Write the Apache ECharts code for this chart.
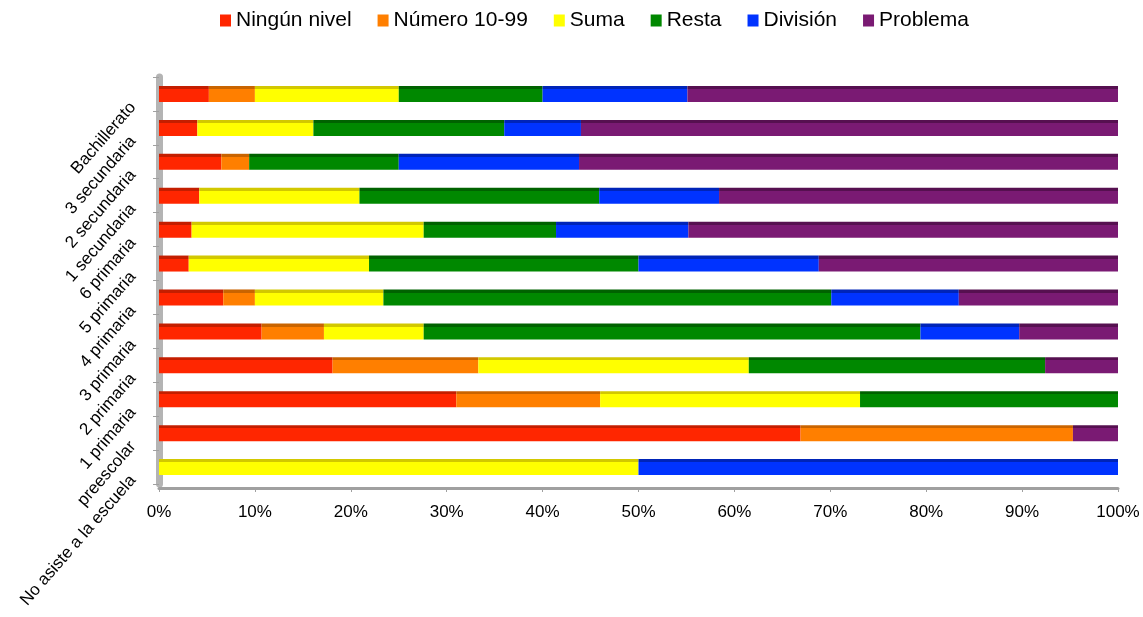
<!DOCTYPE html>
<html>
<head>
<meta charset="utf-8">
<script src="https://cdn.jsdelivr.net/npm/echarts@6/dist/echarts.min.js"></script>
<style>html,body{margin:0;padding:0;background:#fff}#c{width:1143px;height:617px}</style>
</head>
<body>
<div id="c"></div>
<script>
var categories = ['No asiste a la escuela','preescolar','1 primaria','2 primaria','3 primaria','4 primaria','5 primaria','6 primaria','1 secundaria','2 secundaria','3 secundaria','Bachillerato'];
var seriesNames = ['Ningún nivel','Número 10-99','Suma','Resta','División','Problema'];
var ningunNivel = [0, 66.9, 31.0, 18.1, 10.7, 6.7, 3.1, 3.4, 4.2, 6.5, 4.0, 5.2];
var numero1099 = [0, 28.4, 15.0, 15.2, 6.5, 3.3, 0, 0, 0, 2.9, 0, 4.8];
var suma = [50, 0, 27.1, 28.2, 10.4, 13.4, 18.8, 24.2, 16.7, 0, 12.1, 15.0];
var resta = [0, 0, 26.9, 30.9, 51.8, 46.7, 28.1, 13.8, 25.0, 15.6, 19.9, 15.0];
var division = [50, 0, 0, 0, 10.3, 13.3, 18.8, 13.8, 12.5, 18.8, 8.0, 15.1];
var problema = [0, 4.7, 0, 7.6, 10.3, 16.6, 31.2, 44.8, 41.6, 56.2, 56.0, 44.9];
var xTickLabels = ['0%','10%','20%','30%','40%','50%','60%','70%','80%','90%','100%'];

var allData = [ningunNivel, numero1099, suma, resta, division, problema];
var mainColors = ['#FF2600','#FF7F00','#FFFF00','#008800','#0033FF','#7A1A73'];
var darkColors = ['#C41E00','#C96400','#D2C800','#006200','#0024B8','#561050'];

function grad(i){
  return new echarts.graphic.LinearGradient(0,0,0,1,[
    {offset:0,color:darkColors[i]},{offset:0.2,color:darkColors[i]},
    {offset:0.2,color:mainColors[i]},{offset:1,color:mainColors[i]}
  ]);
}

var series = seriesNames.map(function(n,i){
  return {
    name:n, type:'bar', stack:'total', barWidth:16,
    data: allData[i],
    itemStyle:{color:grad(i)}
  };
});

var chart = echarts.init(document.getElementById('c'));
chart.setOption({
  animation:false,
  color: mainColors,
  textStyle:{fontFamily:'Liberation Sans, Arial, sans-serif'},
  legend:{
    data: seriesNames.map(function(n,i){return {name:n,itemStyle:{color:mainColors[i]}};}),
    top:5, left:215, icon:'rect', itemWidth:11, itemHeight:12, itemGap:26,
    textStyle:{fontSize:21,color:'#000',fontFamily:'Liberation Sans, Arial'}
  },
  grid:{left:159,right:25,top:77,bottom:133,containLabel:false},
  xAxis:{
    type:'value', min:0, max:100, interval:10, offset:4,
    axisLine:{show:true,lineStyle:{color:'#a0a0a0',width:3}},
    axisTick:{show:true,length:4,lineStyle:{color:'#a0a0a0'}},
    splitLine:{show:false},
    axisLabel:{fontSize:17,color:'#000',margin:16,
      formatter:function(v){return xTickLabels[Math.round(v/10)];}}
  },
  yAxis:{
    type:'category', data:categories, offset:4,
    axisLine:{show:true,lineStyle:{color:'#b4b4b4',width:7}},
    axisTick:{show:true,length:6,lineStyle:{color:'#a0a0a0'}},
    axisLabel:{rotate:49,fontSize:17,color:'#000',margin:13,padding:[0,14,0,0]}
  },
  series: series
});
</script>
</body>
</html>
